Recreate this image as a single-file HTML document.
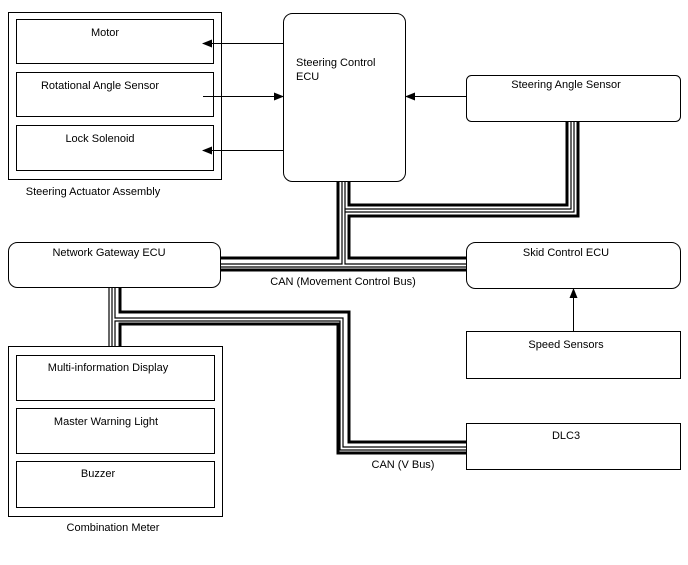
<!DOCTYPE html>
<html><head><style>
body{margin:0;background:#fff}
svg text{font-family:"Liberation Sans",sans-serif;font-size:11px;fill:#000}
</style></head><body>
<svg width="688" height="560" viewBox="0 0 688 560" xmlns="http://www.w3.org/2000/svg">
<defs><marker id="a" markerWidth="10" markerHeight="8" refX="9" refY="4" orient="auto" markerUnits="userSpaceOnUse"><path d="M0,0 L10,4 L0,8 z" fill="#000"/></marker></defs>
<g fill="none" stroke="#000" stroke-width="1">
<rect x="8.5" y="12.5" width="213" height="167"/>
<rect x="16.5" y="19.5" width="197" height="44"/>
<rect x="16.5" y="72.5" width="197" height="44"/>
<rect x="16.5" y="125.5" width="197" height="45"/>
<rect x="283.5" y="13.5" width="122" height="168" rx="9"/>
<rect x="466.5" y="75.5" width="214" height="46" rx="5"/>
<rect x="8.5" y="242.5" width="212" height="45" rx="9"/>
<rect x="466.5" y="242.5" width="214" height="46" rx="9"/>
<rect x="466.5" y="331.5" width="214" height="47"/>
<rect x="466.5" y="423.5" width="214" height="46"/>
<rect x="8.5" y="346.5" width="214" height="170"/>
<rect x="16.5" y="355.5" width="198" height="45"/>
<rect x="16.5" y="408.5" width="198" height="45"/>
<rect x="16.5" y="461.5" width="198" height="46"/>
<line x1="283" y1="43.5" x2="203" y2="43.5" marker-end="url(#a)"/>
<line x1="203" y1="96.5" x2="283" y2="96.5" marker-end="url(#a)"/>
<line x1="283" y1="150.5" x2="203" y2="150.5" marker-end="url(#a)"/>
<line x1="466" y1="96.5" x2="406" y2="96.5" marker-end="url(#a)"/>
<line x1="573.5" y1="331" x2="573.5" y2="289" marker-end="url(#a)"/>
</g>
<g fill="none" stroke="#000" stroke-linejoin="miter">
<polyline stroke-width="3" points="338,181 338,258 220,258"/>
<polyline stroke-width="1.2" points="342,181 342,264 220,264"/>
<polyline stroke-width="1.2" points="345,181 345,264 466,264"/>
<polyline stroke-width="3" points="349,181 349,205 567,205 567,121"/>
<polyline stroke-width="1.2" points="571,121 571,209 345,209"/>
<polyline stroke-width="1.2" points="574,121 574,212 345,212"/>
<polyline stroke-width="3" points="578,121 578,216 349,216 349,258 466,258"/>
<polyline stroke-width="1.2" points="220,267 466,267"/>
<polyline stroke-width="3" points="220,270 466,270"/>
<polyline stroke-width="1.2" points="109,287 109,346"/>
<polyline stroke-width="1.2" points="112,287 112,346"/>
<polyline stroke-width="3" points="120,287 120,312 349,312 349,442 466,442"/>
<polyline stroke-width="1.2" points="115,287 115,318 343,318 343,447 466,447"/>
<polyline stroke-width="1.2" points="115,346 115,321 340,321 340,450 466,450"/>
<polyline stroke-width="3" points="120,346 120,324 338,324 338,453 466,453"/>
</g>
<text x="105" y="36" text-anchor="middle">Motor</text>
<text x="100" y="89" text-anchor="middle">Rotational Angle Sensor</text>
<text x="100" y="142" text-anchor="middle">Lock Solenoid</text>
<text x="93" y="195" text-anchor="middle">Steering Actuator Assembly</text>
<text x="296" y="66">Steering Control</text>
<text x="296" y="80">ECU</text>
<text x="566" y="88" text-anchor="middle">Steering Angle Sensor</text>
<text x="109" y="256" text-anchor="middle">Network Gateway ECU</text>
<text x="566" y="256" text-anchor="middle">Skid Control ECU</text>
<text x="343" y="285" text-anchor="middle">CAN (Movement Control Bus)</text>
<text x="566" y="348" text-anchor="middle">Speed Sensors</text>
<text x="566" y="439" text-anchor="middle">DLC3</text>
<text x="403" y="468" text-anchor="middle">CAN (V Bus)</text>
<text x="108" y="371" text-anchor="middle">Multi-information Display</text>
<text x="106" y="425" text-anchor="middle">Master Warning Light</text>
<text x="98" y="477" text-anchor="middle">Buzzer</text>
<text x="113" y="531" text-anchor="middle">Combination Meter</text>
</svg>
</body></html>
